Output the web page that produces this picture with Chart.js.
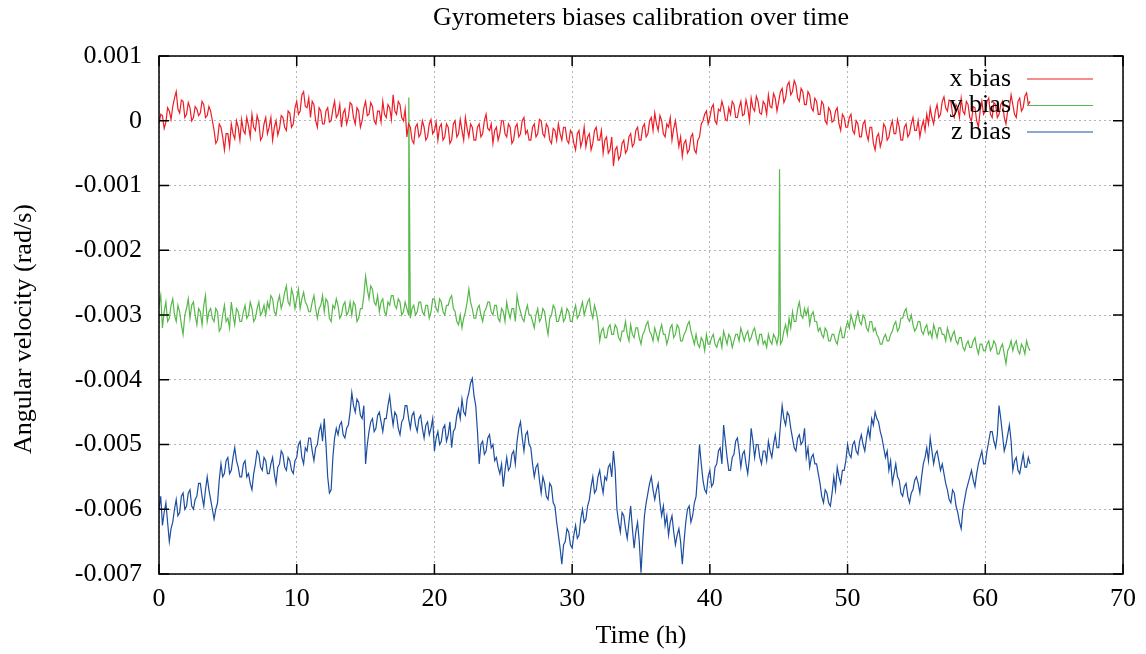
<!DOCTYPE html>
<html><head><meta charset="utf-8">
<script src="https://cdn.jsdelivr.net/npm/chart.js@4.4.1/dist/chart.umd.min.js"></script>
<style>html,body{margin:0;padding:0;background:#fff;}#wrap{width:1146px;height:654px;}</style>
</head><body><div id="wrap"><canvas id="c" width="1146" height="654"></canvas></div>
<script>
const titleText = 'Gyrometers biases calibration over time';
const xAxisTitle = 'Time (h)';
const yAxisTitle = 'Angular velocity (rad/s)';
const seriesNames = ['x bias', 'y bias', 'z bias'];
const seriesColors = ['#ee1c25', '#55b848', '#1c4ea0'];
const xTicks = [0, 10, 20, 30, 40, 50, 60, 70];
const yTicks = [0.001, 0, -0.001, -0.002, -0.003, -0.004, -0.005, -0.006, -0.007];
const yTickLabels = ['0.001', '0', '-0.001', '-0.002', '-0.003', '-0.004', '-0.005', '-0.006', '-0.007'];
const timeStep = 0.125; // hours between samples

const xBias = [
-0.00005,0.0001,0.00008,-0.00012,-0.00002,0.0002,0.00015,0.00002,
0.00022,0.00035,0.00045,0.00018,0.00012,0.00032,0.0003,0.00005,
0.0001,0.00028,0.0002,0,0.00005,0.00022,0.00018,0.00008,
0.00012,0.0003,0.00025,0.00005,0.00008,0.00022,0.00015,0,
-0.00015,-0.00035,-0.0003,-0.00005,-0.0001,-0.00025,-0.00045,-0.0002,
-0.0002,-0.0004,-0.00005,-0.0002,-0.00028,0,-0.0001,-0.0003,
0.00002,-0.00015,-0.0002,0.00005,-0.00008,-0.00025,0.0001,-0.0001,
-0.00015,0.00008,-0.00002,-0.0003,-0.00025,-0.00005,0.00005,-0.0002,
-0.0001,0.00005,-0.0003,-0.0001,0,-0.00022,-0.00012,0.00008,
0.00005,-0.0001,-0.00015,0.00015,0.00012,-0.0001,-0.00005,0.0002,
0.0003,0.0001,0.00015,0.0004,0.00045,0.00022,0.0002,0.00035,
0.00005,0.0003,0.00025,0,-0.0001,0.0002,0.00015,-0.00005,
-0.00005,0.00015,0.0002,-0.00002,0,0.00018,0.0003,0.00005,
0.0001,0.00025,-0.0001,0.00012,0.00018,-0.00005,0.00005,0.00028,
0.00025,0.00005,-0.00005,0.0002,0.00015,-0.0001,0,0.0002,
0.0003,0.00008,0.0001,0.00028,0.00022,0,-0.00005,0.00015,
0.00015,-0.00002,0.0003,0.0001,0.00005,0.00025,0.0002,0.00002,
0.0004,0.00015,0.0001,0.0003,0.00025,0.00005,0,0.00018,
-0.00025,-0.00005,-0.0001,-0.0003,-0.00035,-0.0001,-0.00005,-0.00025,
-0.0002,0,-0.0001,-0.0003,-0.00025,-0.00005,0.00002,-0.0002,
-0.00015,-0.00002,-0.0003,-0.0001,-0.00005,-0.0003,-0.00025,-0.00005,
-0.0001,-0.00035,-0.0003,-0.00005,0,-0.00025,-0.0002,0.00002,
-0.00015,-0.0003,0.00005,-0.00012,-0.00025,-0.00005,-0.0001,-0.0003,
-0.0003,-0.0001,-0.00005,-0.00025,-0.0002,0,0.0001,-0.00012,
-0.00015,-0.00005,-0.00035,-0.00015,-0.0001,-0.0003,-0.0002,0,
0,-0.0002,-0.00025,-0.00005,-0.0001,-0.00035,-0.0003,-0.0001,
-0.00005,-0.00025,-0.0002,0,0.00005,-0.0002,-0.00015,-0.0003,
-0.0003,-0.0001,-0.00005,-0.00025,-0.0002,0.00002,0,-0.0002,
-0.00025,-0.00005,-0.0001,-0.0003,-0.00035,-0.00012,-0.00015,-0.0003,
-0.00005,-0.0002,-0.0003,-0.0001,-0.0001,-0.0003,-0.00035,-0.00015,
-0.0002,-0.00035,-0.00045,-0.0002,-0.00015,-0.0004,-0.0003,-0.0001,
-0.0004,-0.00025,-0.0002,-0.00045,-0.00035,-0.00015,-0.0001,-0.0003,
-0.0003,-0.00015,-0.0005,-0.0003,-0.00025,-0.0005,-0.00045,-0.00025,
-0.0007,-0.00045,-0.0004,-0.0006,-0.00055,-0.00035,-0.0003,-0.0005,
-0.00045,-0.00025,-0.0002,-0.0004,-0.00035,-0.00015,-0.0001,-0.0003,
-0.0003,-0.0001,-0.00005,-0.00025,-0.0002,0,0.00005,-0.00015,
0.00012,-0.00005,-0.00015,0.00008,0,-0.0002,-0.00025,-0.00005,
-0.0001,0.00005,-0.0003,-0.00012,0,-0.0002,-0.0004,-0.00025,
-0.00055,-0.00035,-0.0003,-0.0005,-0.00045,-0.00025,-0.0002,-0.00045,
-0.0005,-0.0003,-0.00025,-0.00005,0,0.0001,0.00015,-0.00005,
0.00005,0.0002,0.00025,0,-0.00005,0.00018,0.00015,0.0003,
0.0002,0.00002,0,0.0002,0.0001,0.0003,0.00025,0.00005,
0.00005,0.0002,0.0003,0.00008,0.0001,0.00032,0.0002,0,
0.00035,0.0002,0.00015,0.00038,0.0003,0.00012,0.0001,0.0003,
0.00025,0.0001,0.0004,0.00022,0.0002,0.00042,0.00035,0.00015,
0.0003,0.00045,0.0005,0.00028,0.00035,0.00055,0.0006,0.0004,
0.00045,0.00062,0.00055,0.00035,0.0003,0.0005,0.00045,0.00025,
0.00025,0.00045,0.0004,0.0002,0.00015,0.00035,0.0003,0.0001,
0.0001,0.0003,0.00025,0,-0.00005,0.0002,0.00015,-0.00002,
0,0.00015,0.0002,-0.00005,-0.00015,0.0001,0.00005,-0.0001,
-0.0001,0.00005,0.0001,-0.00015,-0.0002,0,-0.00005,-0.00025,
-0.00025,-0.00005,0,-0.0002,-0.0003,-0.0001,-0.0001,-0.00035,
-0.00045,-0.00025,-0.0002,-0.0004,-0.0003,-0.00005,-0.0001,-0.0003,
-0.00025,-0.0001,0,-0.0002,-0.0002,0.00002,-0.0001,-0.0003,
-0.0003,-0.0001,-0.00005,-0.00025,-0.0002,-0.00005,0.00005,-0.00015,
-0.00015,0,-0.00025,-0.0001,0,-0.00015,0.0001,-0.00005,
0.0002,0.00005,-0.00005,0.00015,0.00025,0.00005,0.0001,0.0003,
0.00037,0.0002,0.00015,0.00032,0.0003,0.0001,0.00005,0.00025,
0.0002,0.00005,0.00035,0.00015,0.0001,0.0003,0.00025,0.00005,
0,0.00022,0.0002,0,-0.0001,0.00015,0.0003,0.0001,
0.00015,0.0003,0.00035,0.0001,0.00005,0.00028,0.00025,0.00005,
0.0001,0.00025,0.0003,0.00005,-0.00005,0.00015,0.0002,0.0004,
0.00025,0.0001,0.00005,0.0003,0.00035,0.00015,0.0002,0.00038,
0.00043,0.00025,0.0003
];

const yBias = [
-0.00285,-0.0027,-0.0032,-0.00295,-0.0028,-0.0031,-0.00305,-0.00285,
-0.00275,-0.003,-0.0031,-0.00285,-0.00295,-0.00315,-0.0033,-0.003,
-0.0029,-0.00275,-0.00305,-0.00285,-0.0028,-0.003,-0.00315,-0.0029,
-0.00295,-0.00315,-0.00285,-0.0027,-0.0031,-0.00295,-0.0029,-0.00305,
-0.0031,-0.0029,-0.00295,-0.00325,-0.0032,-0.003,-0.00285,-0.0031,
-0.00305,-0.0032,-0.0028,-0.003,-0.00315,-0.0029,-0.00295,-0.0031,
-0.0031,-0.00295,-0.00285,-0.00305,-0.003,-0.0028,-0.0029,-0.0031,
-0.00305,-0.0029,-0.0028,-0.003,-0.00295,-0.00285,-0.003,-0.0028,
-0.0029,-0.0027,-0.00275,-0.00295,-0.003,-0.0028,-0.0027,-0.0029,
-0.0028,-0.00265,-0.00255,-0.0028,-0.00285,-0.0026,-0.0027,-0.0029,
-0.00275,-0.0026,-0.0029,-0.00275,-0.00265,-0.0028,-0.00285,-0.00295,
-0.00295,-0.0028,-0.0027,-0.0029,-0.00305,-0.0029,-0.00285,-0.0027,
-0.00295,-0.00275,-0.0028,-0.00305,-0.0031,-0.00285,-0.0029,-0.00275,
-0.00285,-0.00305,-0.003,-0.00285,-0.0028,-0.003,-0.00295,-0.0028,
-0.003,-0.0028,-0.00285,-0.0031,-0.00305,-0.0029,-0.0029,-0.0027,
-0.0024,-0.0026,-0.00275,-0.00255,-0.0026,-0.0028,-0.00285,-0.0027,
-0.00295,-0.0028,-0.00275,-0.00295,-0.003,-0.0028,-0.00285,-0.0027,
-0.0027,-0.00285,-0.0029,-0.00275,-0.0028,-0.003,-0.00295,-0.0028,
-0.0029,-0.003,-0.00305,-0.0029,-0.00285,-0.003,-0.00295,-0.0028,
-0.0028,-0.00295,-0.003,-0.00285,-0.00285,-0.00305,-0.00295,-0.00275,
-0.00275,-0.0029,-0.00295,-0.00275,-0.0028,-0.00295,-0.003,-0.00285,
-0.00285,-0.00275,-0.0027,-0.0029,-0.00295,-0.0031,-0.00315,-0.003,
-0.0032,-0.00305,-0.00295,-0.0028,-0.0026,-0.0028,-0.0029,-0.00305,
-0.00305,-0.0029,-0.00285,-0.003,-0.0031,-0.00295,-0.0029,-0.0028,
-0.0028,-0.00295,-0.003,-0.00285,-0.00285,-0.00305,-0.0031,-0.0029,
-0.00295,-0.0031,-0.0028,-0.00295,-0.00305,-0.0029,-0.0029,-0.0031,
-0.0027,-0.00285,-0.00295,-0.00305,-0.0031,-0.00295,-0.00285,-0.003,
-0.003,-0.0031,-0.0032,-0.003,-0.0029,-0.0031,-0.00305,-0.0029,
-0.00295,-0.00315,-0.0033,-0.00305,-0.003,-0.00285,-0.0029,-0.0031,
-0.0031,-0.003,-0.0029,-0.0031,-0.00305,-0.0029,-0.00295,-0.0031,
-0.0031,-0.00295,-0.00285,-0.00305,-0.003,-0.0029,-0.0028,-0.003,
-0.0029,-0.0028,-0.00275,-0.00295,-0.00305,-0.00285,-0.00295,-0.0031,
-0.0034,-0.00325,-0.0032,-0.00335,-0.00335,-0.0032,-0.00315,-0.0033,
-0.0033,-0.00315,-0.0032,-0.00335,-0.0034,-0.00325,-0.00325,-0.0031,
-0.0033,-0.0034,-0.00315,-0.0033,-0.00335,-0.0032,-0.0032,-0.00335,
-0.00345,-0.0033,-0.00325,-0.00315,-0.0031,-0.00325,-0.0033,-0.0034,
-0.0032,-0.0033,-0.0034,-0.00325,-0.00315,-0.0033,-0.0033,-0.00345,
-0.00335,-0.0032,-0.00315,-0.00335,-0.0033,-0.00315,-0.0032,-0.0034,
-0.0034,-0.0033,-0.00325,-0.00315,-0.0031,-0.00325,-0.00335,-0.00345,
-0.0033,-0.00345,-0.0035,-0.00335,-0.0034,-0.00355,-0.0033,-0.00345,
-0.00345,-0.00335,-0.0033,-0.00345,-0.0035,-0.0034,-0.00335,-0.0035,
-0.00325,-0.00335,-0.00345,-0.0033,-0.00335,-0.0035,-0.0034,-0.0033,
-0.0033,-0.0034,-0.0032,-0.0033,-0.0034,-0.0033,-0.00325,-0.0034,
-0.00335,-0.00325,-0.0032,-0.00335,-0.00345,-0.0033,-0.0033,-0.00345,
-0.0034,-0.0035,-0.0033,-0.0034,-0.00345,-0.0033,-0.00335,-0.00345,
-0.0033,-0.00345,-0.0034,-0.00325,-0.00315,-0.0033,-0.00305,-0.0032,
-0.00295,-0.0031,-0.0031,-0.0029,-0.0028,-0.003,-0.00305,-0.0029,
-0.003,-0.0029,-0.00315,-0.003,-0.00295,-0.0031,-0.0031,-0.00325,
-0.0032,-0.0033,-0.00335,-0.0032,-0.00325,-0.0034,-0.0034,-0.0033,
-0.0033,-0.0034,-0.00345,-0.0033,-0.0032,-0.00335,-0.00335,-0.0032,
-0.0031,-0.0032,-0.003,-0.0031,-0.0032,-0.00305,-0.00295,-0.0031,
-0.00315,-0.003,-0.00305,-0.0032,-0.00325,-0.0031,-0.0031,-0.00325,
-0.0032,-0.0033,-0.00335,-0.00345,-0.00345,-0.00335,-0.0033,-0.0034,
-0.0034,-0.0033,-0.00325,-0.00315,-0.0031,-0.00325,-0.0032,-0.00305,
-0.00305,-0.00295,-0.0029,-0.00305,-0.0031,-0.003,-0.00315,-0.00325,
-0.0032,-0.0031,-0.0031,-0.00325,-0.0033,-0.0032,-0.00315,-0.0033,
-0.00325,-0.00335,-0.00315,-0.00325,-0.00335,-0.0032,-0.0032,-0.0033,
-0.0033,-0.0034,-0.0032,-0.0033,-0.0034,-0.0033,-0.00325,-0.0034,
-0.00345,-0.00335,-0.00335,-0.0035,-0.00355,-0.00345,-0.0034,-0.0035,
-0.0035,-0.0034,-0.00335,-0.0035,-0.0036,-0.00345,-0.00345,-0.00355,
-0.00355,-0.00345,-0.0034,-0.00355,-0.0035,-0.0034,-0.00345,-0.0036,
-0.0036,-0.0035,-0.00345,-0.0036,-0.00375,-0.00355,-0.0035,-0.0034,
-0.00355,-0.00345,-0.0034,-0.00355,-0.0036,-0.00345,-0.0035,-0.0036,
-0.0034,-0.0035,-0.00355
];
const ySpikeTime = [18.14, 45.06];
const ySpikeValue = [0.00036, -0.00075];

const zBias = [
-0.006,-0.0058,-0.00625,-0.00605,-0.0059,-0.0062,-0.0065,-0.0063,
-0.0062,-0.006,-0.00585,-0.0061,-0.00605,-0.0058,-0.00575,-0.006,
-0.00595,-0.00575,-0.0057,-0.00595,-0.006,-0.00585,-0.0058,-0.0056,
-0.0056,-0.0058,-0.00595,-0.0057,-0.0055,-0.0057,-0.00585,-0.006,
-0.00615,-0.006,-0.0059,-0.00555,-0.0053,-0.0055,-0.00545,-0.00525,
-0.0052,-0.00545,-0.0054,-0.0052,-0.00505,-0.00525,-0.00535,-0.0055,
-0.0055,-0.0053,-0.00525,-0.0055,-0.00545,-0.0056,-0.0057,-0.00545,
-0.0053,-0.0051,-0.00515,-0.00535,-0.0054,-0.0052,-0.00525,-0.00545,
-0.00545,-0.0053,-0.0052,-0.00545,-0.0056,-0.00535,-0.0053,-0.0051,
-0.00515,-0.00535,-0.0054,-0.0052,-0.00525,-0.0054,-0.00545,-0.00525,
-0.0052,-0.005,-0.00495,-0.0052,-0.0053,-0.00505,-0.0051,-0.0049,
-0.0049,-0.0051,-0.00525,-0.00505,-0.005,-0.0048,-0.0047,-0.00495,
-0.0046,-0.005,-0.0055,-0.00575,-0.0057,-0.0052,-0.0049,-0.00475,
-0.00485,-0.0047,-0.00465,-0.00485,-0.0049,-0.00475,-0.0047,-0.0045,
-0.0042,-0.0044,-0.0045,-0.0043,-0.00435,-0.00455,-0.0046,-0.0044,
-0.0053,-0.005,-0.0048,-0.00465,-0.0046,-0.0048,-0.00475,-0.00455,
-0.0045,-0.00465,-0.0048,-0.0046,-0.0046,-0.0044,-0.00425,-0.0045,
-0.0047,-0.0045,-0.00455,-0.00475,-0.00485,-0.00465,-0.0046,-0.0044,
-0.0044,-0.0046,-0.00475,-0.00455,-0.0045,-0.0047,-0.0048,-0.0046,
-0.00455,-0.00475,-0.0049,-0.0047,-0.00465,-0.00485,-0.00475,-0.0046,
-0.0051,-0.0049,-0.0048,-0.005,-0.00495,-0.00475,-0.0047,-0.00495,
-0.00485,-0.00465,-0.00505,-0.0048,-0.00475,-0.00455,-0.00445,-0.0046,
-0.0043,-0.0045,-0.00455,-0.0043,-0.0042,-0.00405,-0.00398,-0.00425,
-0.0044,-0.0048,-0.0053,-0.005,-0.00495,-0.00515,-0.0051,-0.0049,
-0.00485,-0.00505,-0.005,-0.00525,-0.0052,-0.00535,-0.00545,-0.0053,
-0.00565,-0.0054,-0.0052,-0.0054,-0.00535,-0.00515,-0.0051,-0.0053,
-0.00495,-0.00475,-0.00465,-0.0049,-0.0051,-0.00485,-0.0048,-0.005,
-0.00505,-0.0053,-0.0055,-0.00535,-0.0053,-0.00555,-0.00575,-0.0055,
-0.0056,-0.0058,-0.00585,-0.0056,-0.00565,-0.0059,-0.00595,-0.0062,
-0.0064,-0.0066,-0.00685,-0.00655,-0.0065,-0.0063,-0.00635,-0.00655,
-0.0066,-0.0064,-0.00625,-0.00645,-0.0064,-0.00615,-0.006,-0.0062,
-0.00615,-0.00595,-0.00585,-0.00565,-0.0055,-0.00575,-0.0057,-0.0055,
-0.0054,-0.0056,-0.00575,-0.0055,-0.00555,-0.00535,-0.0053,-0.0055,
-0.0051,-0.0054,-0.006,-0.0062,-0.00635,-0.00605,-0.0061,-0.0063,
-0.00645,-0.0062,-0.00595,-0.0063,-0.0066,-0.00635,-0.0062,-0.0065,
-0.00698,-0.0065,-0.0061,-0.0059,-0.00575,-0.0056,-0.0055,-0.0057,
-0.00585,-0.0057,-0.0056,-0.0059,-0.0061,-0.00595,-0.00625,-0.0061,
-0.0064,-0.0062,-0.0061,-0.00635,-0.00655,-0.0064,-0.0063,-0.0065,
-0.00685,-0.0065,-0.0062,-0.006,-0.00595,-0.0062,-0.0061,-0.0059,
-0.0058,-0.0054,-0.005,-0.0053,-0.00555,-0.0057,-0.00575,-0.0055,
-0.0054,-0.00565,-0.0056,-0.00535,-0.0053,-0.0051,-0.00505,-0.0053,
-0.0047,-0.00495,-0.0052,-0.0054,-0.0054,-0.0052,-0.00515,-0.00495,
-0.0049,-0.0051,-0.00535,-0.00515,-0.0051,-0.0053,-0.00545,-0.0052,
-0.00475,-0.00495,-0.0052,-0.005,-0.005,-0.0052,-0.0053,-0.0051,
-0.0051,-0.00525,-0.00495,-0.0051,-0.0052,-0.005,-0.00485,-0.00505,
-0.00505,-0.0047,-0.0044,-0.0046,-0.0047,-0.0045,-0.00455,-0.00475,
-0.0049,-0.00505,-0.0051,-0.0049,-0.00485,-0.005,-0.00495,-0.00475,
-0.0052,-0.00505,-0.00535,-0.0052,-0.00515,-0.0053,-0.0053,-0.00545,
-0.0056,-0.0058,-0.0059,-0.0057,-0.00575,-0.0059,-0.00595,-0.00575,
-0.0055,-0.0057,-0.00535,-0.0055,-0.0056,-0.0054,-0.0054,-0.00525,
-0.005,-0.00515,-0.0052,-0.005,-0.00495,-0.0051,-0.00515,-0.00495,
-0.00485,-0.005,-0.0051,-0.0049,-0.00475,-0.0049,-0.0046,-0.0047,
-0.0045,-0.0046,-0.00465,-0.0048,-0.0049,-0.00505,-0.0052,-0.0051,
-0.0054,-0.00525,-0.0056,-0.00545,-0.0053,-0.0055,-0.00555,-0.00575,
-0.0058,-0.00565,-0.0056,-0.0058,-0.0059,-0.00575,-0.0057,-0.00555,
-0.0055,-0.0056,-0.00575,-0.0055,-0.0053,-0.0052,-0.00505,-0.00525,
-0.0049,-0.0051,-0.0053,-0.00515,-0.0051,-0.00525,-0.0054,-0.0053,
-0.00545,-0.0056,-0.0057,-0.00585,-0.0059,-0.0057,-0.00575,-0.00595,
-0.00605,-0.0062,-0.0063,-0.006,-0.00585,-0.0057,-0.0056,-0.0055,
-0.0054,-0.00555,-0.00565,-0.00545,-0.0053,-0.0052,-0.0051,-0.0053,
-0.0053,-0.0051,-0.00495,-0.0048,-0.0048,-0.00495,-0.00505,-0.00485,
-0.0044,-0.0046,-0.00485,-0.0051,-0.005,-0.00485,-0.0047,-0.00495,
-0.0054,-0.00525,-0.0052,-0.0054,-0.00545,-0.0053,-0.00515,-0.00535,
-0.00535,-0.0052,-0.0053
];

const time = xBias.map((_, i) => i * timeStep);

function toPoints(vals) { return vals.map((v, i) => ({ x: time[i], y: v })); }
const greenPoints = toPoints(yBias).concat(ySpikeTime.map((t, i) => ({ x: t, y: ySpikeValue[i] })))
  .sort((a, b) => a.x - b.x);

const FONT = "'Liberation Serif', 'Times New Roman', serif";
const FSIZE = 26;

const frame = {
  id: 'frame',
  beforeDraw(chart) {
    const c = chart.ctx; c.save(); c.fillStyle = '#fff'; c.fillRect(0, 0, chart.width, chart.height); c.restore();
  },
  afterDatasetsDraw(chart) {
    const c = chart.ctx, a = chart.chartArea, xs = chart.scales.x, ys = chart.scales.y;
    c.save();
    c.strokeStyle = '#000'; c.lineWidth = 1.5;
    c.strokeRect(a.left, a.top, a.right - a.left, a.bottom - a.top);
    const TL = 10;
    c.beginPath();
    yTicks.forEach(v => { const y = ys.getPixelForValue(v);
      c.moveTo(a.left, y); c.lineTo(a.left + TL, y); c.moveTo(a.right, y); c.lineTo(a.right - TL, y); });
    xTicks.forEach(v => { const x = xs.getPixelForValue(v);
      c.moveTo(x, a.bottom); c.lineTo(x, a.bottom - TL); c.moveTo(x, a.top); c.lineTo(x, a.top + TL); });
    c.stroke();
    // legend
    c.font = FSIZE + 'px ' + FONT; c.fillStyle = '#000'; c.textAlign = 'right'; c.textBaseline = 'middle';
    const ly = [79, 105.5, 132];
    seriesNames.forEach((n, i) => {
      c.fillText(n, 1011, ly[i]);
      c.strokeStyle = seriesColors[i]; c.lineWidth = 1.2;
      c.beginPath(); c.moveTo(1027, ly[i]); c.lineTo(1093, ly[i]); c.stroke();
    });
    // titles
    c.textAlign = 'center';
    c.fillText(titleText, (a.left + a.right) / 2, 18);
    c.fillText(xAxisTitle, (a.left + a.right) / 2, 636);
    c.translate(24, 329); c.rotate(-Math.PI / 2);
    c.fillText(yAxisTitle, 0, 0);
    c.restore();
  }
};

new Chart(document.getElementById('c'), {
  type: 'line',
  data: {
    datasets: [
      { label: seriesNames[0], data: toPoints(xBias), borderColor: seriesColors[0], borderWidth: 1.2, pointRadius: 0, tension: 0 },
      { label: seriesNames[1], data: greenPoints, borderColor: seriesColors[1], borderWidth: 1.2, pointRadius: 0, tension: 0 },
      { label: seriesNames[2], data: toPoints(zBias), borderColor: seriesColors[2], borderWidth: 1.2, pointRadius: 0, tension: 0 }
    ]
  },
  options: {
    responsive: false, animation: false, devicePixelRatio: 1,
    layout: { padding: { left: 0, top: 56, right: 23, bottom: 0 } },
    plugins: { legend: { display: false }, title: { display: false }, tooltip: { enabled: false } },
    scales: {
      x: {
        type: 'linear', min: 0, max: 70,
        afterBuildTicks: s => { s.ticks = xTicks.map(v => ({ value: v })); },
        afterFit: s => { s.height = 80; },
        ticks: { font: { family: FONT, size: FSIZE }, color: '#000', padding: 10, maxRotation: 0 },
        grid: { color: '#b4b4b4', lineWidth: 1, drawTicks: false },
        border: { display: false, dash: [2, 3] }
      },
      y: {
        type: 'linear', min: -0.007, max: 0.001,
        afterBuildTicks: s => { s.ticks = yTicks.slice().reverse().map(v => ({ value: v })); },
        afterFit: s => { s.width = 159; },
        ticks: {
          font: { family: FONT, size: FSIZE }, color: '#000', padding: 17,
          callback: v => { const k = yTicks.findIndex(t => Math.abs(t - v) < 1e-9); return k >= 0 ? yTickLabels[k] : ''; }
        },
        grid: { color: '#b4b4b4', lineWidth: 1, drawTicks: false },
        border: { display: false, dash: [2, 3] }
      }
    }
  },
  plugins: [frame]
});
</script></body></html>
